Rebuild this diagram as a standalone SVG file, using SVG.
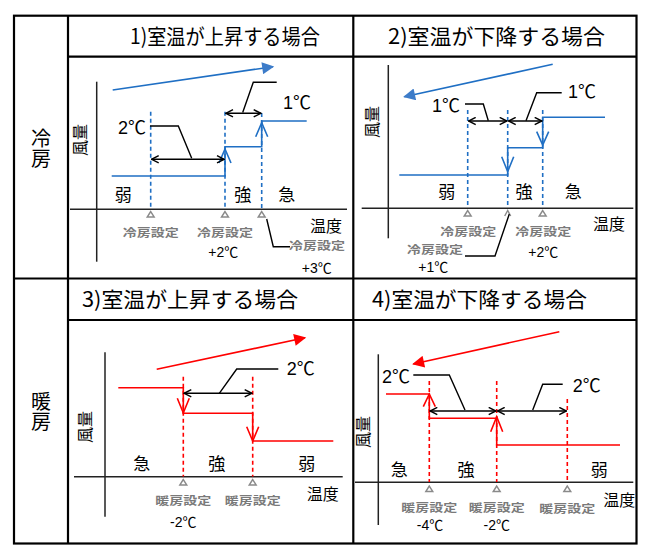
<svg xmlns="http://www.w3.org/2000/svg" width="645" height="552" viewBox="0 0 645 552">
<style>
.tb{stroke:#000;stroke-width:2.2;fill:none}
.ax{stroke:#222;stroke-width:1.5;fill:none}
.bd{stroke:#1f6fc4;stroke-width:1.6;stroke-dasharray:4 3;fill:none}
.bs{stroke:#1f6fc4;stroke-width:1.6;fill:none}
.rd{stroke:#ff0000;stroke-width:1.6;stroke-dasharray:4 3;fill:none}
.rs{stroke:#ff0000;stroke-width:1.6;fill:none}
.dim{stroke:#000;stroke-width:1.6;fill:none;marker-start:url(#oa);marker-end:url(#oa)}
.ld{stroke:#000;stroke-width:1.4;fill:none}
.tri{fill:#fff;stroke:#8a8a8a;stroke-width:1.4}
.hd{font-family:"Noto Sans CJK JP",sans-serif;font-size:21px;fill:#000}
.side{font-family:"Noto Sans CJK JP",sans-serif;font-size:20px;fill:#000;text-anchor:middle;writing-mode:vertical-rl}
.zone{font-family:"Noto Sans CJK JP",sans-serif;font-size:17px;fill:#000;text-anchor:middle}
.ax-t{font-family:"Noto Sans CJK JP",sans-serif;font-size:16px;fill:#000}
.ax-y{font-family:"Noto Sans CJK JP",sans-serif;font-size:16px;fill:#000;text-anchor:middle}
.set{font-family:"Noto Sans CJK JP",sans-serif;font-size:11px;font-weight:bold;fill:#7a7a7a;text-anchor:middle}
.deg{font-family:"Liberation Sans","Noto Sans CJK JP",sans-serif;font-size:18px;fill:#000}
.tmp{font-family:"Liberation Sans","Noto Sans CJK JP",sans-serif;font-size:14px;fill:#000;text-anchor:middle}
</style>
<defs>
<marker id="oa" viewBox="0 0 10 10" refX="9" refY="5" markerWidth="9" markerHeight="9" markerUnits="userSpaceOnUse" orient="auto-start-reverse"><path d="M1,1 L9,5 L1,9" fill="none" stroke="#000" stroke-width="1.6"/></marker>
<marker id="fb" viewBox="0 0 10 10" refX="9" refY="5" markerWidth="15" markerHeight="12" markerUnits="userSpaceOnUse" orient="auto"><path d="M0,0 L10,5 L0,10 Z" fill="#3d7cc9"/></marker>
<marker id="fr" viewBox="0 0 10 10" refX="9" refY="5" markerWidth="15" markerHeight="12" markerUnits="userSpaceOnUse" orient="auto"><path d="M0,0 L10,5 L0,10 Z" fill="#ff0000"/></marker>
</defs>

<g id="table">
<rect class="tb" x="14" y="15.7" width="622.5" height="527.8"/>
<line class="tb" x1="68" y1="15.7" x2="68" y2="543.5"/>
<line class="tb" x1="353.3" y1="15.7" x2="353.3" y2="543.5"/>
<line class="tb" x1="14" y1="278.5" x2="636.5" y2="278.5"/>
<line class="tb" x1="68" y1="56.7" x2="636.5" y2="56.7"/>
<line class="tb" x1="68" y1="320" x2="636.5" y2="320"/>
<text class="side" x="41" y="148">冷房</text>
<text class="side" x="41" y="411">暖房</text>
<text class="hd" x="130" y="44" textLength="190" lengthAdjust="spacingAndGlyphs">1)室温が上昇する場合</text>
<text class="hd" x="388" y="44" textLength="217" lengthAdjust="spacingAndGlyphs">2)室温が下降する場合</text>
<text class="hd" x="82" y="307" textLength="216" lengthAdjust="spacingAndGlyphs">3)室温が上昇する場合</text>
<text class="hd" x="372" y="307" textLength="215" lengthAdjust="spacingAndGlyphs">4)室温が下降する場合</text>
</g>

<g id="panel1">
<line class="ax" x1="96.7" y1="81.7" x2="96.7" y2="261.7"/>
<line class="ax" x1="70" y1="209.3" x2="347" y2="209.3"/>
<text class="ax-y" transform="translate(85.5,140) rotate(-90)">風量</text>
<text class="ax-t" x="310" y="231.5">温度</text>
<line class="bd" x1="150.7" y1="111.7" x2="150.7" y2="209"/>
<line class="bd" x1="225" y1="111.7" x2="225" y2="209"/>
<line class="bd" x1="261.7" y1="113" x2="261.7" y2="209"/>
<path class="bs" d="M111.7,176 H225 V146.7 H261.7 V121 H306.7"/>
<polyline class="bs" points="219,163 225,149 231,163"/>
<polyline class="bs" points="255.7,136.7 261.7,122.7 267.7,136.7"/>
<text class="zone" x="123.3" y="201">弱</text>
<text class="zone" x="242.7" y="201">強</text>
<text class="zone" x="286.7" y="201">急</text>
<polygon class="tri" points="150.7,211.5 147.2,217 154.2,217"/>
<polygon class="tri" points="225,211.5 221.5,217 228.5,217"/>
<polygon class="tri" points="261.7,211.5 258.2,217 265.2,217"/>
<text class="set" x="150.7" y="237" textLength="56" lengthAdjust="spacingAndGlyphs">冷房設定</text>
<text class="set" x="225" y="237" textLength="56" lengthAdjust="spacingAndGlyphs">冷房設定</text>
<text class="set" x="317" y="250" textLength="56" lengthAdjust="spacingAndGlyphs">冷房設定</text>
<text class="tmp" x="223.3" y="257">+2℃</text>
<text class="tmp" x="316.7" y="273">+3℃</text>
<text class="deg" x="146" y="133.5" text-anchor="end">2℃</text>
<text class="deg" x="283" y="108.5">1℃</text>
</g>

<g id="panel2">
<line class="ax" x1="388.3" y1="65" x2="388.3" y2="238.3"/>
<line class="ax" x1="361.7" y1="208.3" x2="633.3" y2="208.3"/>
<text class="ax-y" transform="translate(377.5,122) rotate(-90)">風量</text>
<text class="ax-t" x="593" y="230">温度</text>
<line class="bd" x1="467.7" y1="110" x2="467.7" y2="208"/>
<line class="bd" x1="507.7" y1="110" x2="507.7" y2="208"/>
<line class="bd" x1="542.7" y1="110" x2="542.7" y2="208"/>
<path class="bs" d="M605,117.3 H542.7 V147.7 H507.7 V175 H399.3"/>
<polyline class="bs" points="536.7,131.7 542.7,145 548.7,131.7"/>
<polyline class="bs" points="501.7,156.7 507.7,171.7 513.7,156.7"/>
<text class="zone" x="446.7" y="198">弱</text>
<text class="zone" x="524" y="198">強</text>
<text class="zone" x="573.3" y="198">急</text>
<polygon class="tri" points="467.7,210.5 464.2,216 471.2,216"/>
<polyline class="tri" points="504.7,216 507.7,210.5 510.7,216" fill="none"/>
<polygon class="tri" points="542.7,210.5 539.2,216 546.2,216"/>
<text class="set" x="468.3" y="236" textLength="56" lengthAdjust="spacingAndGlyphs">冷房設定</text>
<text class="set" x="543.3" y="236" textLength="56" lengthAdjust="spacingAndGlyphs">冷房設定</text>
<text class="set" x="435" y="254" textLength="56" lengthAdjust="spacingAndGlyphs">冷房設定</text>
<text class="tmp" x="433.3" y="271.5">+1℃</text>
<text class="tmp" x="543.3" y="256.7">+2℃</text>
<text class="deg" x="460" y="111.7" text-anchor="end">1℃</text>
<text class="deg" x="568" y="98.3">1℃</text>
</g>

<g id="panel3">
<line class="ax" x1="105" y1="352.3" x2="105" y2="516.7"/>
<line class="ax" x1="74" y1="476.7" x2="342.7" y2="476.7"/>
<text class="ax-y" transform="translate(90.5,427) rotate(-90)">風量</text>
<text class="ax-t" x="306.7" y="500">温度</text>
<line class="rd" x1="183.3" y1="376.7" x2="183.3" y2="476.5"/>
<line class="rd" x1="252.7" y1="376.7" x2="252.7" y2="476.5"/>
<path class="rs" d="M118.3,387.7 H183.3 V413.3 H252.7 V441 H333.3"/>
<polyline class="rs" points="177.3,398.3 183.3,413 189.3,398.3"/>
<polyline class="rs" points="246.7,426.7 252.7,441 258.7,426.7"/>
<text class="zone" x="141.7" y="470">急</text>
<text class="zone" x="216.7" y="470">強</text>
<text class="zone" x="306.7" y="470">弱</text>
<polygon class="tri" points="183.3,479.5 179.8,485 186.8,485"/>
<polygon class="tri" points="252.7,479.5 249.2,485 256.2,485"/>
<text class="set" x="183.3" y="505" textLength="56" lengthAdjust="spacingAndGlyphs">暖房設定</text>
<text class="set" x="252.7" y="505" textLength="56" lengthAdjust="spacingAndGlyphs">暖房設定</text>
<text class="tmp" x="183.3" y="526.5">-2℃</text>
<text class="deg" x="286.7" y="375">2℃</text>
</g>

<g id="panel4">
<line class="ax" x1="378.3" y1="354.3" x2="378.3" y2="525"/>
<line class="ax" x1="355" y1="482.3" x2="633.3" y2="482.3"/>
<text class="ax-y" transform="translate(368.5,432) rotate(-90)">風量</text>
<text class="ax-t" x="603.3" y="506">温度</text>
<line class="rd" x1="429.3" y1="381" x2="429.3" y2="482"/>
<line class="rd" x1="496.7" y1="381" x2="496.7" y2="482"/>
<line class="rd" x1="567.3" y1="399" x2="567.3" y2="482"/>
<path class="rs" d="M386,394 H429.3 V418.3 H496.7 V445 H620"/>
<polyline class="rs" points="423.3,406.7 429.3,394 435.3,406.7"/>
<polyline class="rs" points="490.7,431.7 496.7,416.7 502.7,431.7"/>
<text class="zone" x="399.3" y="476">急</text>
<text class="zone" x="466" y="476">強</text>
<text class="zone" x="599.3" y="476">弱</text>
<polygon class="tri" points="429.3,486 425.8,491.5 432.8,491.5"/>
<polygon class="tri" points="496.7,486 493.2,491.5 500.2,491.5"/>
<polygon class="tri" points="567.3,486 563.8,491.5 570.8,491.5"/>
<text class="set" x="429.3" y="511.5" textLength="56" lengthAdjust="spacingAndGlyphs">暖房設定</text>
<text class="set" x="496.7" y="511.5" textLength="56" lengthAdjust="spacingAndGlyphs">暖房設定</text>
<text class="set" x="567.3" y="513" textLength="56" lengthAdjust="spacingAndGlyphs">暖房設定</text>
<text class="tmp" x="430" y="530">-4℃</text>
<text class="tmp" x="496.7" y="530">-2℃</text>
<text class="deg" x="410" y="383.3" text-anchor="end">2℃</text>
<text class="deg" x="572.7" y="391.7">2℃</text>
</g>

<g id="connectors">
<line class="bs" x1="112.7" y1="90" x2="273" y2="66.7" stroke="#3d7cc9" stroke-width="1.8" marker-end="url(#fb)"/>
<line class="bs" x1="552.7" y1="64.3" x2="404.3" y2="96.7" stroke="#3d7cc9" stroke-width="1.8" marker-end="url(#fb)"/>
<line class="rs" x1="156.7" y1="369.3" x2="305" y2="337.7" stroke-width="1.8" marker-end="url(#fr)"/>
<line class="rs" x1="559.3" y1="331.7" x2="413.3" y2="364" stroke-width="1.8" marker-end="url(#fr)"/>
<line class="dim" x1="151.5" y1="159.3" x2="224.2" y2="159.3"/>
<line class="dim" x1="225.8" y1="113.3" x2="260.9" y2="113.3"/>
<line class="dim" x1="468.5" y1="121" x2="506.9" y2="121"/>
<line class="dim" x1="508.5" y1="121" x2="541.9" y2="121"/>
<line class="dim" x1="184.1" y1="393.3" x2="251.9" y2="393.3"/>
<line class="dim" x1="430.1" y1="411" x2="495.9" y2="411"/>
<line class="dim" x1="497.5" y1="411" x2="566.5" y2="411"/>
<polyline class="ld" points="150,126 178.3,126 191.7,158.3"/>
<polyline class="ld" points="242.7,112.5 253.3,82.3 276.7,82.3"/>
<polyline class="ld" points="465,104 483.3,104 488.3,120.7"/>
<polyline class="ld" points="526,120.7 536.7,92.7 561.7,92.7"/>
<polyline class="ld" points="219.3,393.3 236.7,369 278.3,369"/>
<polyline class="ld" points="413.3,375 449.3,375 465,410"/>
<polyline class="ld" points="532.7,410 542.7,384.3 562.7,384.3"/>
<polyline class="ld" points="266.7,219 273.3,246.7 290,246.7"/>
<polyline class="ld" points="509.3,214 495,256 465,256"/>
</g>
</svg>
